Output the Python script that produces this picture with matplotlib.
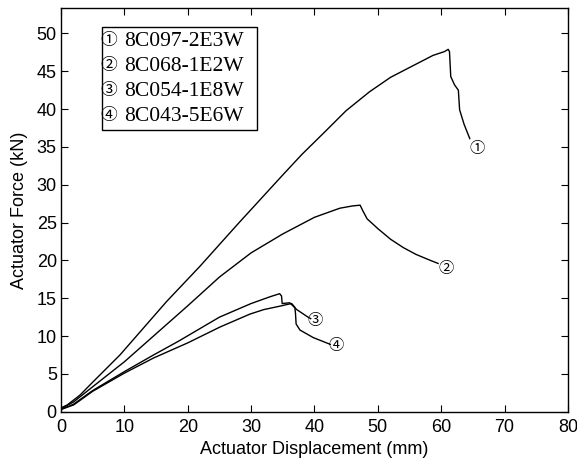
import matplotlib
matplotlib.use("Agg")
import matplotlib.pyplot as plt
from matplotlib.patches import Rectangle

# Force-displacement curves
x1 = [0, 1, 3, 5, 9.3, 16.7, 21.9, 28, 35, 38, 41.4, 45, 48.7, 52, 55, 58.7, 60.5, 61.1,
      61.3, 61.5, 62.1, 62.7, 62.9, 63.6, 64.5]
y1 = [0.5, 0.9, 2.2, 3.9, 7.5, 14.6, 19.2, 24.9, 31.3, 34.0, 36.8, 39.8, 42.3, 44.2, 45.5,
      47.1, 47.6, 47.9, 47.6, 44.3, 43.2, 42.5, 39.9, 38.0, 36.1]

x2 = [0, 2, 5, 10, 15, 20, 25, 30, 35, 40, 44, 46, 47.2, 47.6, 48.3, 50, 52, 54,
      56, 58, 59.5]
y2 = [0.4, 1.3, 3.3, 6.6, 10.3, 14.0, 17.8, 21.0, 23.5, 25.7, 26.9, 27.2, 27.3, 26.6, 25.5,
      24.2, 22.8, 21.7, 20.8, 20.1, 19.6]

x3 = [0, 2, 5, 10, 14.6, 18.5, 25, 30, 33, 34.5, 34.8, 34.9, 36.1, 37.2, 38.8, 39.4]
y3 = [0.3, 1.0, 2.8, 5.3, 7.5, 9.3, 12.5, 14.3, 15.2, 15.6, 15.3, 14.3, 14.4, 13.5, 12.6, 12.3]

x4 = [0, 2, 5, 10, 14.6, 20, 25.1, 29.8, 32, 34.8, 35.8, 36.4, 36.9, 37.0, 37.1,
      37.7, 39.8, 41.9, 42.5]
y4 = [0.3, 0.9, 2.7, 5.1, 7.1, 9.1, 11.2, 12.9, 13.5, 14.0, 14.2, 14.3, 13.8, 13.0, 11.6,
      10.8, 9.8, 9.1, 8.9]

markers = ["\u2460", "\u2461", "\u2462", "\u2463"]
marker_x = [65.6, 60.8, 40.1, 43.4]
marker_y = [34.7, 18.8, 12.0, 8.7]
specimens = ["8C097-2E3W", "8C068-1E2W", "8C054-1E8W", "8C043-5E6W"]

fig = plt.figure(figsize=(5.77, 4.61), dpi=100)
ax = fig.add_axes([0.1057, 0.1069, 0.8787, 0.8747])

for xs, ys in [(x1, y1), (x2, y2), (x3, y3), (x4, y4)]:
    ax.plot(xs, ys, color="black", lw=1.0)

circ_font = ["Liberation Serif", "Noto Sans CJK JP"]
for m, mx, my in zip(markers, marker_x, marker_y):
    ax.text(mx, my, m, family=circ_font, fontsize=11, ha="center", va="center")

# legend box drawn by hand (no line handles in the original)
ax.add_patch(Rectangle((0.0809, 0.6987), 0.3057, 0.2553, transform=ax.transAxes,
                       fc="white", ec="black", lw=1.0, zorder=3))
row_y = [0.919, 0.857, 0.795, 0.733]
for m, s, ry in zip(markers, specimens, row_y):
    ax.text(0.0947, ry, m, transform=ax.transAxes, family=circ_font, fontsize=12,
            ha="center", va="center", zorder=4)
    ax.text(0.1243, ry, s, transform=ax.transAxes, family="Liberation Serif",
            fontsize=15.5, ha="left", va="center", zorder=4)

ax.set_xlim(0, 80)
ax.set_ylim(0, 53.3)
ax.set_xticks(range(0, 81, 10))
ax.set_yticks(range(0, 51, 5))
ax.tick_params(direction="in", length=5, top=True, right=True, labelsize=13)
ax.tick_params(axis="x", pad=5)
ax.tick_params(axis="y", pad=3)
for lab in ax.get_xticklabels() + ax.get_yticklabels():
    lab.set_family("Liberation Sans")
for sp in ax.spines.values():
    sp.set_linewidth(1.0)

ax.set_xlabel("Actuator Displacement (mm)", family="Liberation Sans", fontsize=13, labelpad=4)
ax.set_ylabel("Actuator Force (kN)", family="Liberation Sans", fontsize=13, labelpad=6)

fig.savefig("out.png", dpi=100)
